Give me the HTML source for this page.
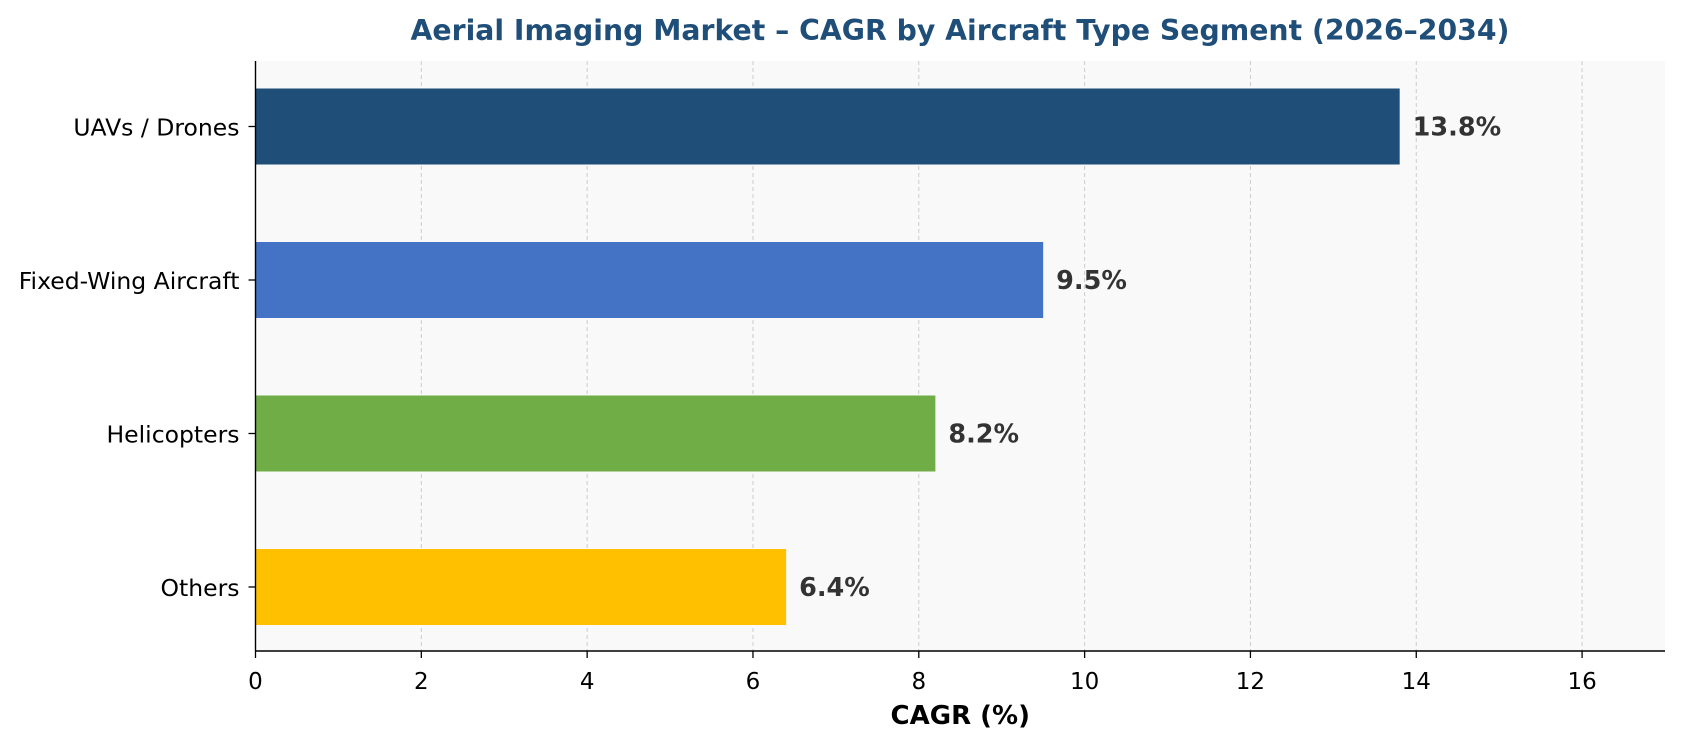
<!DOCTYPE html>
<html><head><meta charset="utf-8"><style>
body{margin:0;background:#fff;}
svg text{font-family:"DejaVu Sans","Liberation Sans",sans-serif;}
</style></head><body>
<svg id="chart" width="1682" height="746" viewBox="0 0 1682 746" xmlns="http://www.w3.org/2000/svg">
<rect x="0" y="0" width="1682" height="746" fill="#fff"/>
<text x="960" y="40" text-anchor="middle" font-size="28.3" font-weight="bold" fill="#1f4e79">Aerial Imaging Market – CAGR by Aircraft Type Segment (2026–2034)</text>
<g id="plot"></g>
</svg>
<script>
const categories = ["UAVs / Drones","Fixed-Wing Aircraft","Helicopters","Others"];
const values = [13.8, 9.5, 8.2, 6.4];
const colors = ["#1f4e79","#4472c4","#70ad47","#ffc000"];
const valueLabels = ["13.8%","9.5%","8.2%","6.4%"];
const xTicks = [0,2,4,6,8,10,12,14,16];

const L=255.5,R=1665,T=61,B=651, XMAX=17;
const x = v => L + v/XMAX*(R-L);
const yC = i => 126.5 + i*153.5;
const barH = 76;
const NS="http://www.w3.org/2000/svg";
const g=document.getElementById('plot');
function mk(tag, attrs){const e=document.createElementNS(NS,tag);for(const k in attrs)e.setAttribute(k,attrs[k]);g.appendChild(e);return e;}

let bg=mk('rect',{x:L,y:T,width:R-L,height:B-T,fill:'#f9f9f9'});



xTicks.forEach(t=>{
  if(t>0){
    let gl=mk('line',{x1:x(t),x2:x(t),y1:T,y2:B,stroke:'#cccccc','stroke-width':1,'stroke-dasharray':'4,3'});
    
    
  }
  let tk=mk('line',{x1:x(t),x2:x(t),y1:B,y2:B+7,stroke:'#000','stroke-width':1.3});
  
  
  let tl=mk('text',{x:x(t),y:B+38,'text-anchor':'middle','font-size':23,fill:'#000'});
  tl.textContent=t;
  
  
});

categories.forEach((c,i)=>{
  let b=mk('rect',{x:L,y:yC(i)-barH/2,width:x(values[i])-L,height:barH,fill:colors[i]});
  
  
  let vl=mk('text',{x:x(values[i])+13,y:yC(i)+9,'font-size':25.5,'font-weight':'bold',fill:'#333'});
  vl.textContent=valueLabels[i];
  
  
  let tk=mk('line',{x1:L-7,x2:L,y1:yC(i),y2:yC(i),stroke:'#000','stroke-width':1.3});
  
  
  let cl=mk('text',{x:L-16,y:yC(i)+9,'text-anchor':'end','font-size':23.5,fill:'#000'});
  cl.textContent=c;
  
  
});

let ax=mk('line',{x1:L,x2:L,y1:T,y2:B,stroke:'#000','stroke-width':1.4});


let bx=mk('line',{x1:L,x2:R,y1:B,y2:B,stroke:'#000','stroke-width':1.4});


let xt=mk('text',{x:(L+R)/2,y:724,'text-anchor':'middle','font-size':26,'font-weight':'bold',fill:'#000'});
xt.textContent='CAGR (%)';


</script>
</body></html>
